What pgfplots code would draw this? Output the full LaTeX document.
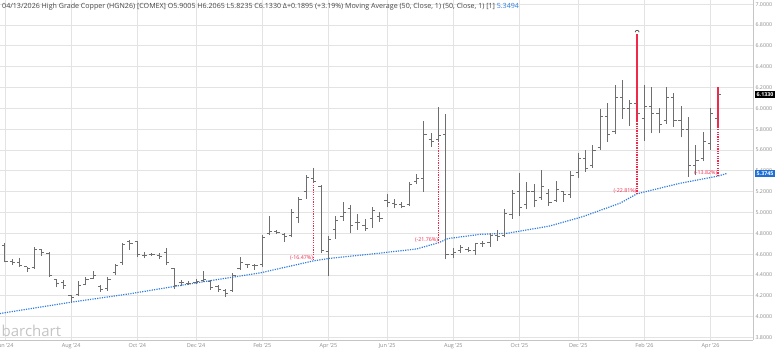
\documentclass[border=0pt]{standalone}
\usepackage{fontspec}
\setmainfont{Open Sans}
\usepackage{pgfplots}
\usepackage{pgfplotstable}
\pgfplotsset{compat=1.18}
\definecolor{barc}{HTML}{6E6E6E}
\definecolor{gridc}{HTML}{E3E3E3}
\definecolor{mac}{HTML}{2E7DE0}
\definecolor{ddred}{HTML}{F0284A}
\definecolor{txtc}{HTML}{454545}
\definecolor{tickc}{HTML}{8C8C8C}
\definecolor{boxblue}{HTML}{1F6FD6}
\definecolor{wmc}{HTML}{C4C4C4}

\pgfdeclareplotmark{otick}{\pgfpathmoveto{\pgfqpoint{-2.7pt}{0pt}}\pgfpathlineto{\pgfqpoint{0pt}{0pt}}\pgfusepathqstroke}
\pgfdeclareplotmark{ctick}{\pgfpathmoveto{\pgfqpoint{0pt}{0pt}}\pgfpathlineto{\pgfqpoint{2.7pt}{0pt}}\pgfusepathqstroke}
\pgfdeclareplotmark{capmark}{\pgfpathmoveto{\pgfqpoint{-2pt}{0pt}}\pgfpatharc{180}{0}{2pt}\pgfusepathqstroke}

\pgfplotstableread{
i O H L C
0 4.68 4.71 4.52 4.53
1 4.53 4.55 4.50 4.52
2 4.52 4.56 4.48 4.49
3 4.48 4.48 4.43 4.46
4 4.47 4.67 4.46 4.65
5 4.65 4.65 4.58 4.62
6 4.61 4.62 4.38 4.40
7 4.36 4.36 4.28 4.32
8 4.33 4.35 4.27 4.30
9 4.20 4.21 4.13 4.18
10 4.21 4.34 4.20 4.30
11 4.31 4.38 4.30 4.36
12 4.37 4.44 4.36 4.40
13 4.29 4.30 4.24 4.26
14 4.27 4.38 4.25 4.36
15 4.42 4.51 4.40 4.49
16 4.52 4.71 4.50 4.69
17 4.72 4.74 4.64 4.70
18 4.72 4.73 4.57 4.60
19 4.59 4.62 4.56 4.59
20 4.60 4.61 4.58 4.60
21 4.59 4.61 4.55 4.58
22 4.62 4.66 4.50 4.52
23 4.46 4.47 4.27 4.30
24 4.33 4.35 4.29 4.33
25 4.32 4.34 4.30 4.32
26 4.33 4.36 4.31 4.34
27 4.35 4.44 4.33 4.36
28 4.34 4.35 4.26 4.28
29 4.29 4.30 4.24 4.26
30 4.25 4.27 4.19 4.22
31 4.25 4.42 4.24 4.40
32 4.46 4.57 4.45 4.52
33 4.50 4.51 4.47 4.50
34 4.49 4.51 4.45 4.49
35 4.50 4.78 4.48 4.76
36 4.80 4.97 4.78 4.82
37 4.82 4.83 4.79 4.81
38 4.79 4.80 4.72 4.77
39 4.78 5.03 4.76 5.00
40 4.95 5.15 4.90 5.13
41 5.20 5.36 5.13 5.34
42 5.33 5.43 5.29 5.30
43 5.25 5.26 4.61 4.64
44 4.63 4.77 4.39 4.74
45 4.84 4.97 4.75 4.92
46 4.96 5.10 4.92 5.00
47 5.04 5.07 4.80 4.88
48 4.90 4.99 4.83 4.90
49 4.88 4.94 4.82 4.85
50 4.94 5.05 4.85 5.02
51 4.96 5.00 4.91 4.94
52 5.12 5.18 5.05 5.10
53 5.09 5.13 5.04 5.08
54 5.08 5.10 5.04 5.06
55 5.08 5.29 5.06 5.27
56 5.30 5.37 5.27 5.33
57 5.33 5.88 5.20 5.75
58 5.70 5.76 5.63 5.68
59 5.70 6.01 5.68 5.74
60 5.75 5.95 4.55 4.60
61 4.60 4.66 4.56 4.62
62 4.64 4.69 4.61 4.66
63 4.65 4.67 4.62 4.64
64 4.64 4.71 4.59 4.70
65 4.70 4.73 4.67 4.70
66 4.71 4.80 4.67 4.78
67 4.78 4.83 4.73 4.77
68 4.78 5.03 4.76 4.99
69 4.98 5.22 4.94 5.18
70 5.20 5.38 4.97 5.05
71 5.08 5.29 5.03 5.20
72 5.20 5.27 5.05 5.12
73 5.14 5.41 5.12 5.25
74 5.18 5.23 5.06 5.10
75 5.12 5.30 5.10 5.22
76 5.20 5.21 5.10 5.17
77 5.17 5.40 5.14 5.36
78 5.38 5.57 5.33 5.52
79 5.52 5.60 5.39 5.42
80 5.45 5.65 5.43 5.60
81 5.62 5.99 5.60 5.92
82 5.92 6.05 5.68 5.75
83 5.78 6.22 5.75 6.10
84 6.10 6.27 5.90 6.00
85 6.00 6.08 5.83 6.05
87 5.90 6.22 5.69 6.02
88 6.02 6.20 5.76 5.95
89 5.95 6.00 5.76 5.85
90 5.88 6.20 5.85 6.10
91 6.10 6.15 5.82 5.88
92 5.88 6.02 5.72 5.80
93 5.80 5.92 5.34 5.45
94 5.45 5.65 5.36 5.50
95 5.52 5.77 5.49 5.68
96 5.66 6.00 5.60 5.95
}\ohlc

\pgfplotstableread{
i O H L C
86 6.05 6.71 5.88 5.95
97 5.9005 6.2065 5.8235 6.1330
}\ohlcred

\pgfplotstableread{
i v
-0.7 4.03
9.1 4.14
17 4.22
26.5 4.33
34.7 4.42
42 4.536
44.2 4.56
51 4.61
56 4.65
59 4.71
60.3 4.75
64.6 4.79
68.3 4.80
74.1 4.87
78.6 4.96
83.7 5.09
86 5.18
91.8 5.28
97 5.3494
98.2 5.3745
}\ma

\begin{document}
\begin{tikzpicture}
\begin{axis}[
  at={(0,0)}, anchor=south west,
  scale only axis, width=753pt, height=340pt,
  xmin=-0.68, xmax=101.77, ymin=3.776, ymax=7.04,
  axis x line*=bottom, axis y line*=right,
  axis line style={draw=gridc!70!gray, line width=0.6pt},
  xtick={0,9,18,26,35,44,52,61,70,78,87,96},
  xticklabels={Jun '24,Aug '24,Oct '24,Dec '24,Feb '25,Apr '25,Jun '25,Aug '25,Oct '25,Dec '25,Feb '26,Apr '26},
  ytick={3.8,4.0,4.2,4.4,4.6,4.8,5.0,5.2,5.4,5.6,5.8,6.0,6.2,6.4,6.6,6.8,7.0},
  /pgf/number format/assume math mode=true,
  yticklabel style={/pgf/number format/fixed, /pgf/number format/fixed zerofill, /pgf/number format/precision=4, font=\fontsize{5.3}{6}\selectfont, text=tickc, xshift=-1pt},
  xticklabel style={font=\fontsize{5.5}{6}\selectfont, text=tickc},
  grid=major, major grid style={gridc, line width=0.7pt},
  major tick length=0pt,
  clip=true,
]
% moving average
\addplot[draw=mac, line width=1.2pt, dash pattern=on 1.2pt off 1.2pt] table[x=i, y=v] {\ma};

% drawdown lines
\addplot[draw=ddred, line width=1.2pt, dash pattern=on 1.3pt off 1.1pt] coordinates {(42.02,5.43) (42.02,4.536)};
\addplot[draw=ddred, line width=1.2pt, dash pattern=on 1.3pt off 1.1pt] coordinates {(59,6.01) (59,4.71)};
\addplot[draw=ddred, line width=1.2pt, dash pattern=on 1.3pt off 1.1pt] coordinates {(86,5.88) (86,5.18)};
\addplot[draw=ddred, line width=1.2pt, dash pattern=on 1.3pt off 1.1pt] coordinates {(97,5.8235) (97,5.3494)};

% high-low ranges of the grey bars
\addplot[draw=none, mark=none, error bars/.cd, y dir=plus, y explicit, error mark=none, error bar style={draw=barc, line width=1pt}]
  table[x=i, y=L, y error expr=\thisrow{H}-\thisrow{L}] {\ohlc};
\addplot[draw=barc, only marks, mark=otick, mark options={draw=barc, line width=0.9pt}] table[x=i, y=O] {\ohlc};
\addplot[draw=barc, only marks, mark=ctick, mark options={draw=barc, line width=0.9pt}] table[x=i, y=C] {\ohlc};

% red bars
\addplot[draw=ddred, line width=1.25pt] coordinates {(86,5.88) (86,6.71)};
\addplot[draw=ddred, line width=1.25pt] coordinates {(97,5.8235) (97,6.2065)};
\addplot[draw=barc, only marks, mark=otick, mark options={draw=barc, line width=0.9pt}] table[x=i, y=O] {\ohlcred};
\addplot[draw=barc, only marks, mark=ctick, mark options={draw=barc, line width=0.9pt}] table[x=i, y=C] {\ohlcred};
\addplot[draw=txtc, only marks, mark=capmark, mark options={draw=txtc, line width=0.7pt}] coordinates {(86,6.73)};

% drawdown labels
\node[anchor=south east, text=ddred, font=\fontsize{5.3}{6}\selectfont, inner sep=0.6pt] at (axis cs:42,4.536) {(-16.47\%)};
\node[anchor=south east, text=ddred, font=\fontsize{5.3}{6}\selectfont, inner sep=0.6pt] at (axis cs:59,4.71) {(-21.76\%)};
\node[anchor=south east, text=ddred, font=\fontsize{5.3}{6}\selectfont, inner sep=0.6pt] at (axis cs:86,5.18) {(-22.81\%)};
\node[anchor=south east, text=ddred, font=\fontsize{5.3}{6}\selectfont, inner sep=0.6pt] at (axis cs:97,5.3494) {(-13.82\%)};

% title
\node[anchor=north west, inner sep=0pt, text=txtc, font=\fontsize{7.1}{8}\selectfont] at (rel axis cs:0,1) [xshift=2pt, yshift=-3pt]
  {04/13/2026 High Grade Copper (HGN26) [COMEX] O5.9005 H6.2065 L5.8235 C6.1330 Δ+0.1895 (+3.19\%) Moving Average (50, Close, 1) (50, Close, 1) [1] \textcolor{mac}{5.3494}};

% watermark
\node[anchor=base west, inner sep=0pt, text=wmc, font=\fontsize{15}{15}\selectfont] at (rel axis cs:0,0) [xshift=1.5pt, yshift=3.5pt] {barchart};
\end{axis}
% price boxes on the right axis
\begin{axis}[
  at={(0,0)}, anchor=south west,
  scale only axis, width=753pt, height=340pt,
  xmin=-0.68, xmax=101.77, ymin=3.776, ymax=7.04,
  hide axis, clip=false,
]
\node[anchor=west, fill=black, text=white, font=\bfseries\fontsize{5.3}{6}\selectfont, inner xsep=2pt, inner ysep=1.8pt] at (axis cs:101.77,6.133) [xshift=1.5pt] {6.1330};
\node[anchor=west, fill=boxblue, text=white, font=\bfseries\fontsize{5.3}{6}\selectfont, inner xsep=2pt, inner ysep=1.8pt] at (axis cs:101.77,5.3745) [xshift=1.5pt] {5.3745};
\end{axis}
\pgfresetboundingbox
\path[use as bounding box] (0,-13pt) rectangle (780pt,340pt);
\end{tikzpicture}
\end{document}
